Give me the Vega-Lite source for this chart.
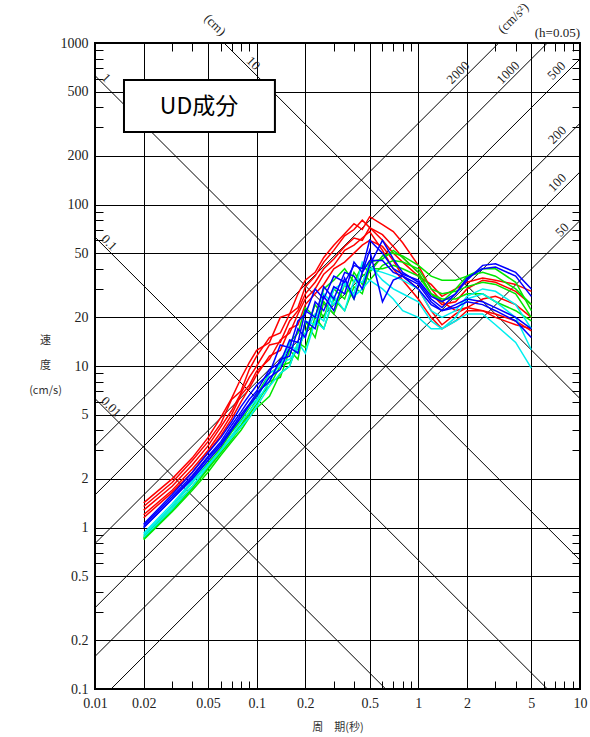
{
"$schema":"https://vega.github.io/schema/vega-lite/v6.json",
"width":485,"height":646,
"autosize":{"type":"none"},
"padding":{"left":95,"top":43,"right":10,"bottom":48},
"background":"white",
"config":{
 "view":{"stroke":"#000","strokeWidth":2},
 "axis":{"domain":false,"tickColor":"#000","tickWidth":1,"tickSize":-8,"gridColor":"#000","gridWidth":1,"labelFont":"Liberation Serif","labelFontSize":14,"labelColor":"#222","labelOverlap":false,"labelBound":false,"labelFlush":false,"titleFontWeight":"normal","titleColor":"#333","titleFont":"Noto Sans CJK JP","titleFontSize":11}
},
"resolve":{"axis":{"x":"independent","y":"independent"}},
"datasets":{
 "diag":[
  {"name":"D0.01","T1":0.01,"V1":6.283,"T2":0.6283,"V2":0.1},
  {"name":"D0.1","T1":0.01,"V1":62.83,"T2":6.283,"V2":0.1},
  {"name":"D1","T1":0.01,"V1":628.3,"T2":10,"V2":0.6283},
  {"name":"D10","T1":0.06283,"V1":1000,"T2":10,"V2":6.283},
  {"name":"A2000","T1":0.01,"V1":3.183,"T2":3.1416,"V2":1000},
  {"name":"A1000","T1":0.01,"V1":1.5915,"T2":6.2832,"V2":1000},
  {"name":"A500","T1":0.01,"V1":0.7958,"T2":10,"V2":795.8},
  {"name":"A200","T1":0.01,"V1":0.3183,"T2":10,"V2":318.3},
  {"name":"A100","T1":0.01,"V1":0.15915,"T2":10,"V2":159.15},
  {"name":"A50","T1":0.012566,"V1":0.1,"T2":10,"V2":79.58}
 ],
 "labels":[
  {"kind":"d","text":"1","T":0.0117,"V":607},
  {"kind":"d","text":"10","T":0.0953,"V":748},
  {"kind":"d","text":"0.1","T":0.01221,"V":58.0},
  {"kind":"d","text":"0.01","T":0.01256,"V":5.57},
  {"kind":"d","text":"(cm)","T":0.0552,"V":1293},
  {"kind":"a","text":"2000","T":1.765,"V":655},
  {"kind":"a","text":"1000","T":3.597,"V":655},
  {"kind":"a","text":"500","T":7.166,"V":674},
  {"kind":"a","text":"200","T":7.234,"V":269},
  {"kind":"a","text":"100","T":7.234,"V":136.5},
  {"kind":"a","text":"50","T":7.76,"V":69.5},
  {"kind":"a","text":"(cm/s²)","T":3.864,"V":1422},
  {"kind":"h","text":"(h=0.05)","T":10,"V":1148}
 ],
 "box":[{"T1":0.01511,"V1":590,"T2":0.1297,"V2":281,"Tc":0.044,"Vc":401.6,"text":"UD成分"}],
 "spec":[
{"s":"R1","g":"red","T":0.02,"Sv":1.42},{"s":"R1","g":"red","T":0.03,"Sv":2.0},{"s":"R1","g":"red","T":0.04,"Sv":2.7},{"s":"R1","g":"red","T":0.05,"Sv":3.6},{"s":"R1","g":"red","T":0.06,"Sv":4.8},{"s":"R1","g":"red","T":0.07,"Sv":6.3},{"s":"R1","g":"red","T":0.08,"Sv":8.4},{"s":"R1","g":"red","T":0.09,"Sv":10.5},{"s":"R1","g":"red","T":0.1,"Sv":12.5},{"s":"R1","g":"red","T":0.12,"Sv":14},{"s":"R1","g":"red","T":0.14,"Sv":20},{"s":"R1","g":"red","T":0.16,"Sv":21},{"s":"R1","g":"red","T":0.18,"Sv":28},{"s":"R1","g":"red","T":0.2,"Sv":34},{"s":"R1","g":"red","T":0.23,"Sv":38},{"s":"R1","g":"red","T":0.26,"Sv":47},{"s":"R1","g":"red","T":0.3,"Sv":56},{"s":"R1","g":"red","T":0.35,"Sv":66},{"s":"R1","g":"red","T":0.4,"Sv":76},{"s":"R1","g":"red","T":0.45,"Sv":70},{"s":"R1","g":"red","T":0.5,"Sv":84},{"s":"R1","g":"red","T":0.6,"Sv":75},{"s":"R1","g":"red","T":0.7,"Sv":68},{"s":"R1","g":"red","T":0.8,"Sv":58},{"s":"R1","g":"red","T":1.0,"Sv":42},{"s":"R1","g":"red","T":1.2,"Sv":30},{"s":"R1","g":"red","T":1.4,"Sv":25},{"s":"R1","g":"red","T":1.7,"Sv":22},{"s":"R1","g":"red","T":2.0,"Sv":23},{"s":"R1","g":"red","T":2.5,"Sv":26},{"s":"R1","g":"red","T":3.0,"Sv":27},{"s":"R1","g":"red","T":4.0,"Sv":24},{"s":"R1","g":"red","T":5.0,"Sv":20},
{"s":"R2","g":"red","T":0.02,"Sv":1.35},{"s":"R2","g":"red","T":0.03,"Sv":1.9},{"s":"R2","g":"red","T":0.04,"Sv":2.6},{"s":"R2","g":"red","T":0.05,"Sv":3.4},{"s":"R2","g":"red","T":0.06,"Sv":4.4},{"s":"R2","g":"red","T":0.07,"Sv":6.2},{"s":"R2","g":"red","T":0.08,"Sv":7.0},{"s":"R2","g":"red","T":0.09,"Sv":9.5},{"s":"R2","g":"red","T":0.1,"Sv":11.5},{"s":"R2","g":"red","T":0.12,"Sv":15},{"s":"R2","g":"red","T":0.14,"Sv":16},{"s":"R2","g":"red","T":0.16,"Sv":21},{"s":"R2","g":"red","T":0.18,"Sv":23},{"s":"R2","g":"red","T":0.2,"Sv":31},{"s":"R2","g":"red","T":0.23,"Sv":36},{"s":"R2","g":"red","T":0.26,"Sv":44},{"s":"R2","g":"red","T":0.3,"Sv":52},{"s":"R2","g":"red","T":0.35,"Sv":64},{"s":"R2","g":"red","T":0.4,"Sv":70},{"s":"R2","g":"red","T":0.45,"Sv":80},{"s":"R2","g":"red","T":0.5,"Sv":72},{"s":"R2","g":"red","T":0.6,"Sv":65},{"s":"R2","g":"red","T":0.7,"Sv":55},{"s":"R2","g":"red","T":0.8,"Sv":47},{"s":"R2","g":"red","T":1.0,"Sv":38},{"s":"R2","g":"red","T":1.2,"Sv":28},{"s":"R2","g":"red","T":1.4,"Sv":24},{"s":"R2","g":"red","T":1.7,"Sv":25},{"s":"R2","g":"red","T":2.0,"Sv":30},{"s":"R2","g":"red","T":2.5,"Sv":34},{"s":"R2","g":"red","T":3.0,"Sv":33},{"s":"R2","g":"red","T":4.0,"Sv":29},{"s":"R2","g":"red","T":5.0,"Sv":24},
{"s":"R3","g":"red","T":0.02,"Sv":1.28},{"s":"R3","g":"red","T":0.03,"Sv":1.8},{"s":"R3","g":"red","T":0.04,"Sv":2.45},{"s":"R3","g":"red","T":0.05,"Sv":3.2},{"s":"R3","g":"red","T":0.06,"Sv":4.2},{"s":"R3","g":"red","T":0.07,"Sv":5.3},{"s":"R3","g":"red","T":0.08,"Sv":6.8},{"s":"R3","g":"red","T":0.09,"Sv":8.5},{"s":"R3","g":"red","T":0.1,"Sv":10},{"s":"R3","g":"red","T":0.12,"Sv":13.5},{"s":"R3","g":"red","T":0.14,"Sv":14},{"s":"R3","g":"red","T":0.16,"Sv":19},{"s":"R3","g":"red","T":0.18,"Sv":22},{"s":"R3","g":"red","T":0.2,"Sv":28},{"s":"R3","g":"red","T":0.23,"Sv":33},{"s":"R3","g":"red","T":0.26,"Sv":40},{"s":"R3","g":"red","T":0.3,"Sv":46},{"s":"R3","g":"red","T":0.35,"Sv":55},{"s":"R3","g":"red","T":0.4,"Sv":62},{"s":"R3","g":"red","T":0.45,"Sv":60},{"s":"R3","g":"red","T":0.5,"Sv":72},{"s":"R3","g":"red","T":0.6,"Sv":60},{"s":"R3","g":"red","T":0.7,"Sv":50},{"s":"R3","g":"red","T":0.8,"Sv":44},{"s":"R3","g":"red","T":1.0,"Sv":36},{"s":"R3","g":"red","T":1.2,"Sv":32},{"s":"R3","g":"red","T":1.4,"Sv":27},{"s":"R3","g":"red","T":1.7,"Sv":30},{"s":"R3","g":"red","T":2.0,"Sv":33},{"s":"R3","g":"red","T":2.5,"Sv":35},{"s":"R3","g":"red","T":3.0,"Sv":34},{"s":"R3","g":"red","T":4.0,"Sv":32},{"s":"R3","g":"red","T":5.0,"Sv":29},
{"s":"R4","g":"red","T":0.02,"Sv":1.2},{"s":"R4","g":"red","T":0.03,"Sv":1.7},{"s":"R4","g":"red","T":0.04,"Sv":2.3},{"s":"R4","g":"red","T":0.05,"Sv":3.0},{"s":"R4","g":"red","T":0.06,"Sv":3.9},{"s":"R4","g":"red","T":0.07,"Sv":5.0},{"s":"R4","g":"red","T":0.08,"Sv":6.6},{"s":"R4","g":"red","T":0.09,"Sv":7.6},{"s":"R4","g":"red","T":0.1,"Sv":9.3},{"s":"R4","g":"red","T":0.12,"Sv":11},{"s":"R4","g":"red","T":0.14,"Sv":14.5},{"s":"R4","g":"red","T":0.16,"Sv":16},{"s":"R4","g":"red","T":0.18,"Sv":21},{"s":"R4","g":"red","T":0.2,"Sv":26},{"s":"R4","g":"red","T":0.23,"Sv":30},{"s":"R4","g":"red","T":0.26,"Sv":37},{"s":"R4","g":"red","T":0.3,"Sv":42},{"s":"R4","g":"red","T":0.35,"Sv":52},{"s":"R4","g":"red","T":0.4,"Sv":56},{"s":"R4","g":"red","T":0.45,"Sv":62},{"s":"R4","g":"red","T":0.5,"Sv":68},{"s":"R4","g":"red","T":0.6,"Sv":52},{"s":"R4","g":"red","T":0.7,"Sv":40},{"s":"R4","g":"red","T":0.8,"Sv":34},{"s":"R4","g":"red","T":1.0,"Sv":26},{"s":"R4","g":"red","T":1.2,"Sv":20},{"s":"R4","g":"red","T":1.4,"Sv":17},{"s":"R4","g":"red","T":1.7,"Sv":19},{"s":"R4","g":"red","T":2.0,"Sv":22},{"s":"R4","g":"red","T":2.5,"Sv":22},{"s":"R4","g":"red","T":3.0,"Sv":21},{"s":"R4","g":"red","T":4.0,"Sv":19},{"s":"R4","g":"red","T":5.0,"Sv":16.5},
{"s":"R5","g":"red","T":0.02,"Sv":1.15},{"s":"R5","g":"red","T":0.03,"Sv":1.65},{"s":"R5","g":"red","T":0.04,"Sv":2.2},{"s":"R5","g":"red","T":0.05,"Sv":2.9},{"s":"R5","g":"red","T":0.06,"Sv":3.7},{"s":"R5","g":"red","T":0.07,"Sv":4.7},{"s":"R5","g":"red","T":0.08,"Sv":6.0},{"s":"R5","g":"red","T":0.09,"Sv":7.3},{"s":"R5","g":"red","T":0.1,"Sv":8.8},{"s":"R5","g":"red","T":0.12,"Sv":11.5},{"s":"R5","g":"red","T":0.14,"Sv":12.5},{"s":"R5","g":"red","T":0.16,"Sv":17},{"s":"R5","g":"red","T":0.18,"Sv":18},{"s":"R5","g":"red","T":0.2,"Sv":24},{"s":"R5","g":"red","T":0.23,"Sv":28},{"s":"R5","g":"red","T":0.26,"Sv":32},{"s":"R5","g":"red","T":0.3,"Sv":40},{"s":"R5","g":"red","T":0.35,"Sv":44},{"s":"R5","g":"red","T":0.4,"Sv":50},{"s":"R5","g":"red","T":0.45,"Sv":56},{"s":"R5","g":"red","T":0.5,"Sv":60},{"s":"R5","g":"red","T":0.6,"Sv":55},{"s":"R5","g":"red","T":0.7,"Sv":45},{"s":"R5","g":"red","T":0.8,"Sv":36},{"s":"R5","g":"red","T":1.0,"Sv":30},{"s":"R5","g":"red","T":1.2,"Sv":22},{"s":"R5","g":"red","T":1.4,"Sv":18},{"s":"R5","g":"red","T":1.7,"Sv":21},{"s":"R5","g":"red","T":2.0,"Sv":23},{"s":"R5","g":"red","T":2.5,"Sv":22},{"s":"R5","g":"red","T":3.0,"Sv":20},{"s":"R5","g":"red","T":4.0,"Sv":18},{"s":"R5","g":"red","T":5.0,"Sv":17},
{"s":"G1","g":"green","T":0.02,"Sv":0.88},{"s":"G1","g":"green","T":0.03,"Sv":1.35},{"s":"G1","g":"green","T":0.04,"Sv":1.9},{"s":"G1","g":"green","T":0.05,"Sv":2.5},{"s":"G1","g":"green","T":0.06,"Sv":3.1},{"s":"G1","g":"green","T":0.07,"Sv":3.9},{"s":"G1","g":"green","T":0.08,"Sv":4.6},{"s":"G1","g":"green","T":0.09,"Sv":5.5},{"s":"G1","g":"green","T":0.1,"Sv":6.6},{"s":"G1","g":"green","T":0.12,"Sv":9},{"s":"G1","g":"green","T":0.14,"Sv":10},{"s":"G1","g":"green","T":0.16,"Sv":14},{"s":"G1","g":"green","T":0.18,"Sv":16},{"s":"G1","g":"green","T":0.2,"Sv":23},{"s":"G1","g":"green","T":0.23,"Sv":20},{"s":"G1","g":"green","T":0.26,"Sv":30},{"s":"G1","g":"green","T":0.3,"Sv":34},{"s":"G1","g":"green","T":0.35,"Sv":40},{"s":"G1","g":"green","T":0.4,"Sv":33},{"s":"G1","g":"green","T":0.45,"Sv":42},{"s":"G1","g":"green","T":0.5,"Sv":38},{"s":"G1","g":"green","T":0.6,"Sv":48},{"s":"G1","g":"green","T":0.7,"Sv":50},{"s":"G1","g":"green","T":0.8,"Sv":48},{"s":"G1","g":"green","T":1.0,"Sv":42},{"s":"G1","g":"green","T":1.2,"Sv":36},{"s":"G1","g":"green","T":1.4,"Sv":34},{"s":"G1","g":"green","T":1.7,"Sv":34},{"s":"G1","g":"green","T":2.0,"Sv":36},{"s":"G1","g":"green","T":2.5,"Sv":38},{"s":"G1","g":"green","T":3.0,"Sv":36},{"s":"G1","g":"green","T":4.0,"Sv":30},{"s":"G1","g":"green","T":5.0,"Sv":24},
{"s":"G2","g":"green","T":0.02,"Sv":0.86},{"s":"G2","g":"green","T":0.03,"Sv":1.3},{"s":"G2","g":"green","T":0.04,"Sv":1.8},{"s":"G2","g":"green","T":0.05,"Sv":2.35},{"s":"G2","g":"green","T":0.06,"Sv":3.0},{"s":"G2","g":"green","T":0.07,"Sv":3.7},{"s":"G2","g":"green","T":0.08,"Sv":4.3},{"s":"G2","g":"green","T":0.09,"Sv":5.2},{"s":"G2","g":"green","T":0.1,"Sv":6.2},{"s":"G2","g":"green","T":0.12,"Sv":7.5},{"s":"G2","g":"green","T":0.14,"Sv":10},{"s":"G2","g":"green","T":0.16,"Sv":10.5},{"s":"G2","g":"green","T":0.18,"Sv":13},{"s":"G2","g":"green","T":0.2,"Sv":16},{"s":"G2","g":"green","T":0.23,"Sv":24},{"s":"G2","g":"green","T":0.26,"Sv":20},{"s":"G2","g":"green","T":0.3,"Sv":30},{"s":"G2","g":"green","T":0.35,"Sv":26},{"s":"G2","g":"green","T":0.4,"Sv":38},{"s":"G2","g":"green","T":0.45,"Sv":32},{"s":"G2","g":"green","T":0.5,"Sv":44},{"s":"G2","g":"green","T":0.6,"Sv":46},{"s":"G2","g":"green","T":0.7,"Sv":52},{"s":"G2","g":"green","T":0.8,"Sv":47},{"s":"G2","g":"green","T":1.0,"Sv":38},{"s":"G2","g":"green","T":1.2,"Sv":28},{"s":"G2","g":"green","T":1.4,"Sv":25},{"s":"G2","g":"green","T":1.7,"Sv":30},{"s":"G2","g":"green","T":2.0,"Sv":36},{"s":"G2","g":"green","T":2.5,"Sv":40},{"s":"G2","g":"green","T":3.0,"Sv":40},{"s":"G2","g":"green","T":4.0,"Sv":33},{"s":"G2","g":"green","T":5.0,"Sv":22},
{"s":"G3","g":"green","T":0.02,"Sv":0.85},{"s":"G3","g":"green","T":0.03,"Sv":1.28},{"s":"G3","g":"green","T":0.04,"Sv":1.75},{"s":"G3","g":"green","T":0.05,"Sv":2.3},{"s":"G3","g":"green","T":0.06,"Sv":2.9},{"s":"G3","g":"green","T":0.07,"Sv":3.5},{"s":"G3","g":"green","T":0.08,"Sv":4.2},{"s":"G3","g":"green","T":0.09,"Sv":5.0},{"s":"G3","g":"green","T":0.1,"Sv":5.8},{"s":"G3","g":"green","T":0.12,"Sv":8},{"s":"G3","g":"green","T":0.14,"Sv":8.5},{"s":"G3","g":"green","T":0.16,"Sv":12.5},{"s":"G3","g":"green","T":0.18,"Sv":11},{"s":"G3","g":"green","T":0.2,"Sv":19},{"s":"G3","g":"green","T":0.23,"Sv":15},{"s":"G3","g":"green","T":0.26,"Sv":25},{"s":"G3","g":"green","T":0.3,"Sv":21},{"s":"G3","g":"green","T":0.35,"Sv":32},{"s":"G3","g":"green","T":0.4,"Sv":26},{"s":"G3","g":"green","T":0.45,"Sv":37},{"s":"G3","g":"green","T":0.5,"Sv":34},{"s":"G3","g":"green","T":0.6,"Sv":42},{"s":"G3","g":"green","T":0.7,"Sv":45},{"s":"G3","g":"green","T":0.8,"Sv":44},{"s":"G3","g":"green","T":1.0,"Sv":40},{"s":"G3","g":"green","T":1.2,"Sv":30},{"s":"G3","g":"green","T":1.4,"Sv":28},{"s":"G3","g":"green","T":1.7,"Sv":29},{"s":"G3","g":"green","T":2.0,"Sv":31},{"s":"G3","g":"green","T":2.5,"Sv":33},{"s":"G3","g":"green","T":3.0,"Sv":32},{"s":"G3","g":"green","T":4.0,"Sv":28},{"s":"G3","g":"green","T":5.0,"Sv":20},
{"s":"G4","g":"green","T":0.02,"Sv":0.84},{"s":"G4","g":"green","T":0.03,"Sv":1.25},{"s":"G4","g":"green","T":0.04,"Sv":1.7},{"s":"G4","g":"green","T":0.05,"Sv":2.2},{"s":"G4","g":"green","T":0.06,"Sv":2.8},{"s":"G4","g":"green","T":0.07,"Sv":3.4},{"s":"G4","g":"green","T":0.08,"Sv":4.0},{"s":"G4","g":"green","T":0.09,"Sv":4.8},{"s":"G4","g":"green","T":0.1,"Sv":5.5},{"s":"G4","g":"green","T":0.12,"Sv":6.5},{"s":"G4","g":"green","T":0.14,"Sv":9},{"s":"G4","g":"green","T":0.16,"Sv":10},{"s":"G4","g":"green","T":0.18,"Sv":14},{"s":"G4","g":"green","T":0.2,"Sv":13},{"s":"G4","g":"green","T":0.23,"Sv":20},{"s":"G4","g":"green","T":0.26,"Sv":17},{"s":"G4","g":"green","T":0.3,"Sv":26},{"s":"G4","g":"green","T":0.35,"Sv":22},{"s":"G4","g":"green","T":0.4,"Sv":31},{"s":"G4","g":"green","T":0.45,"Sv":28},{"s":"G4","g":"green","T":0.5,"Sv":40},{"s":"G4","g":"green","T":0.6,"Sv":40},{"s":"G4","g":"green","T":0.7,"Sv":42},{"s":"G4","g":"green","T":0.8,"Sv":40},{"s":"G4","g":"green","T":1.0,"Sv":36},{"s":"G4","g":"green","T":1.2,"Sv":28},{"s":"G4","g":"green","T":1.4,"Sv":26},{"s":"G4","g":"green","T":1.7,"Sv":26},{"s":"G4","g":"green","T":2.0,"Sv":28},{"s":"G4","g":"green","T":2.5,"Sv":28},{"s":"G4","g":"green","T":3.0,"Sv":25},{"s":"G4","g":"green","T":4.0,"Sv":22},{"s":"G4","g":"green","T":5.0,"Sv":19},
{"s":"C1","g":"cyan","T":0.02,"Sv":0.92},{"s":"C1","g":"cyan","T":0.03,"Sv":1.4},{"s":"C1","g":"cyan","T":0.04,"Sv":1.95},{"s":"C1","g":"cyan","T":0.05,"Sv":2.6},{"s":"C1","g":"cyan","T":0.06,"Sv":3.3},{"s":"C1","g":"cyan","T":0.07,"Sv":4.1},{"s":"C1","g":"cyan","T":0.08,"Sv":4.8},{"s":"C1","g":"cyan","T":0.09,"Sv":5.6},{"s":"C1","g":"cyan","T":0.1,"Sv":6.2},{"s":"C1","g":"cyan","T":0.12,"Sv":9},{"s":"C1","g":"cyan","T":0.14,"Sv":10},{"s":"C1","g":"cyan","T":0.16,"Sv":14},{"s":"C1","g":"cyan","T":0.18,"Sv":12},{"s":"C1","g":"cyan","T":0.2,"Sv":19},{"s":"C1","g":"cyan","T":0.23,"Sv":18},{"s":"C1","g":"cyan","T":0.26,"Sv":28},{"s":"C1","g":"cyan","T":0.3,"Sv":24},{"s":"C1","g":"cyan","T":0.35,"Sv":32},{"s":"C1","g":"cyan","T":0.4,"Sv":28},{"s":"C1","g":"cyan","T":0.45,"Sv":44},{"s":"C1","g":"cyan","T":0.5,"Sv":40},{"s":"C1","g":"cyan","T":0.6,"Sv":38},{"s":"C1","g":"cyan","T":0.7,"Sv":36},{"s":"C1","g":"cyan","T":0.8,"Sv":34},{"s":"C1","g":"cyan","T":1.0,"Sv":30},{"s":"C1","g":"cyan","T":1.2,"Sv":22},{"s":"C1","g":"cyan","T":1.4,"Sv":20},{"s":"C1","g":"cyan","T":1.7,"Sv":22},{"s":"C1","g":"cyan","T":2.0,"Sv":27},{"s":"C1","g":"cyan","T":2.5,"Sv":30},{"s":"C1","g":"cyan","T":3.0,"Sv":29},{"s":"C1","g":"cyan","T":4.0,"Sv":24},{"s":"C1","g":"cyan","T":5.0,"Sv":17},
{"s":"C2","g":"cyan","T":0.02,"Sv":0.9},{"s":"C2","g":"cyan","T":0.03,"Sv":1.35},{"s":"C2","g":"cyan","T":0.04,"Sv":1.9},{"s":"C2","g":"cyan","T":0.05,"Sv":2.45},{"s":"C2","g":"cyan","T":0.06,"Sv":3.0},{"s":"C2","g":"cyan","T":0.07,"Sv":3.6},{"s":"C2","g":"cyan","T":0.08,"Sv":4.2},{"s":"C2","g":"cyan","T":0.09,"Sv":4.8},{"s":"C2","g":"cyan","T":0.1,"Sv":5.6},{"s":"C2","g":"cyan","T":0.12,"Sv":7.5},{"s":"C2","g":"cyan","T":0.14,"Sv":9},{"s":"C2","g":"cyan","T":0.16,"Sv":10},{"s":"C2","g":"cyan","T":0.18,"Sv":14},{"s":"C2","g":"cyan","T":0.2,"Sv":12},{"s":"C2","g":"cyan","T":0.23,"Sv":19},{"s":"C2","g":"cyan","T":0.26,"Sv":17},{"s":"C2","g":"cyan","T":0.3,"Sv":27},{"s":"C2","g":"cyan","T":0.35,"Sv":22},{"s":"C2","g":"cyan","T":0.4,"Sv":34},{"s":"C2","g":"cyan","T":0.45,"Sv":33},{"s":"C2","g":"cyan","T":0.5,"Sv":42},{"s":"C2","g":"cyan","T":0.6,"Sv":34},{"s":"C2","g":"cyan","T":0.7,"Sv":30},{"s":"C2","g":"cyan","T":0.8,"Sv":28},{"s":"C2","g":"cyan","T":1.0,"Sv":25},{"s":"C2","g":"cyan","T":1.2,"Sv":19},{"s":"C2","g":"cyan","T":1.4,"Sv":17},{"s":"C2","g":"cyan","T":1.7,"Sv":20},{"s":"C2","g":"cyan","T":2.0,"Sv":26},{"s":"C2","g":"cyan","T":2.5,"Sv":28},{"s":"C2","g":"cyan","T":3.0,"Sv":25},{"s":"C2","g":"cyan","T":4.0,"Sv":20},{"s":"C2","g":"cyan","T":5.0,"Sv":12.6},
{"s":"C3","g":"cyan","T":0.02,"Sv":0.87},{"s":"C3","g":"cyan","T":0.03,"Sv":1.3},{"s":"C3","g":"cyan","T":0.04,"Sv":1.8},{"s":"C3","g":"cyan","T":0.05,"Sv":2.4},{"s":"C3","g":"cyan","T":0.06,"Sv":3.0},{"s":"C3","g":"cyan","T":0.07,"Sv":3.7},{"s":"C3","g":"cyan","T":0.08,"Sv":4.5},{"s":"C3","g":"cyan","T":0.09,"Sv":5.2},{"s":"C3","g":"cyan","T":0.1,"Sv":6.0},{"s":"C3","g":"cyan","T":0.12,"Sv":8},{"s":"C3","g":"cyan","T":0.14,"Sv":10.5},{"s":"C3","g":"cyan","T":0.16,"Sv":11},{"s":"C3","g":"cyan","T":0.18,"Sv":13},{"s":"C3","g":"cyan","T":0.2,"Sv":16},{"s":"C3","g":"cyan","T":0.23,"Sv":21},{"s":"C3","g":"cyan","T":0.26,"Sv":19},{"s":"C3","g":"cyan","T":0.3,"Sv":30},{"s":"C3","g":"cyan","T":0.35,"Sv":33},{"s":"C3","g":"cyan","T":0.4,"Sv":27},{"s":"C3","g":"cyan","T":0.45,"Sv":30},{"s":"C3","g":"cyan","T":0.5,"Sv":34},{"s":"C3","g":"cyan","T":0.6,"Sv":30},{"s":"C3","g":"cyan","T":0.7,"Sv":26},{"s":"C3","g":"cyan","T":0.8,"Sv":22},{"s":"C3","g":"cyan","T":1.0,"Sv":20},{"s":"C3","g":"cyan","T":1.2,"Sv":17},{"s":"C3","g":"cyan","T":1.4,"Sv":17},{"s":"C3","g":"cyan","T":1.7,"Sv":19},{"s":"C3","g":"cyan","T":2.0,"Sv":21},{"s":"C3","g":"cyan","T":2.5,"Sv":21},{"s":"C3","g":"cyan","T":3.0,"Sv":18},{"s":"C3","g":"cyan","T":4.0,"Sv":14},{"s":"C3","g":"cyan","T":5.0,"Sv":9.7},
{"s":"B1","g":"blue","T":0.02,"Sv":1.05},{"s":"B1","g":"blue","T":0.03,"Sv":1.6},{"s":"B1","g":"blue","T":0.04,"Sv":2.2},{"s":"B1","g":"blue","T":0.05,"Sv":2.9},{"s":"B1","g":"blue","T":0.06,"Sv":3.6},{"s":"B1","g":"blue","T":0.07,"Sv":4.5},{"s":"B1","g":"blue","T":0.08,"Sv":5.6},{"s":"B1","g":"blue","T":0.09,"Sv":6.6},{"s":"B1","g":"blue","T":0.1,"Sv":7.6},{"s":"B1","g":"blue","T":0.12,"Sv":9},{"s":"B1","g":"blue","T":0.14,"Sv":13.5},{"s":"B1","g":"blue","T":0.16,"Sv":13},{"s":"B1","g":"blue","T":0.18,"Sv":19},{"s":"B1","g":"blue","T":0.2,"Sv":21},{"s":"B1","g":"blue","T":0.23,"Sv":30},{"s":"B1","g":"blue","T":0.26,"Sv":26},{"s":"B1","g":"blue","T":0.3,"Sv":36},{"s":"B1","g":"blue","T":0.35,"Sv":33},{"s":"B1","g":"blue","T":0.4,"Sv":42},{"s":"B1","g":"blue","T":0.45,"Sv":40},{"s":"B1","g":"blue","T":0.5,"Sv":60},{"s":"B1","g":"blue","T":0.6,"Sv":50},{"s":"B1","g":"blue","T":0.7,"Sv":40},{"s":"B1","g":"blue","T":0.8,"Sv":37},{"s":"B1","g":"blue","T":1.0,"Sv":34},{"s":"B1","g":"blue","T":1.2,"Sv":27},{"s":"B1","g":"blue","T":1.4,"Sv":25},{"s":"B1","g":"blue","T":1.7,"Sv":28},{"s":"B1","g":"blue","T":2.0,"Sv":34},{"s":"B1","g":"blue","T":2.5,"Sv":42},{"s":"B1","g":"blue","T":3.0,"Sv":43},{"s":"B1","g":"blue","T":4.0,"Sv":38},{"s":"B1","g":"blue","T":5.0,"Sv":30},
{"s":"B2","g":"blue","T":0.02,"Sv":1.03},{"s":"B2","g":"blue","T":0.03,"Sv":1.55},{"s":"B2","g":"blue","T":0.04,"Sv":2.1},{"s":"B2","g":"blue","T":0.05,"Sv":2.75},{"s":"B2","g":"blue","T":0.06,"Sv":3.4},{"s":"B2","g":"blue","T":0.07,"Sv":4.3},{"s":"B2","g":"blue","T":0.08,"Sv":5.2},{"s":"B2","g":"blue","T":0.09,"Sv":6.2},{"s":"B2","g":"blue","T":0.1,"Sv":7.0},{"s":"B2","g":"blue","T":0.12,"Sv":9.5},{"s":"B2","g":"blue","T":0.14,"Sv":10.5},{"s":"B2","g":"blue","T":0.16,"Sv":14.5},{"s":"B2","g":"blue","T":0.18,"Sv":14},{"s":"B2","g":"blue","T":0.2,"Sv":22},{"s":"B2","g":"blue","T":0.23,"Sv":20},{"s":"B2","g":"blue","T":0.26,"Sv":31},{"s":"B2","g":"blue","T":0.3,"Sv":26},{"s":"B2","g":"blue","T":0.35,"Sv":38},{"s":"B2","g":"blue","T":0.4,"Sv":36},{"s":"B2","g":"blue","T":0.45,"Sv":30},{"s":"B2","g":"blue","T":0.5,"Sv":42},{"s":"B2","g":"blue","T":0.6,"Sv":60},{"s":"B2","g":"blue","T":0.7,"Sv":46},{"s":"B2","g":"blue","T":0.8,"Sv":38},{"s":"B2","g":"blue","T":1.0,"Sv":33},{"s":"B2","g":"blue","T":1.2,"Sv":26},{"s":"B2","g":"blue","T":1.4,"Sv":23},{"s":"B2","g":"blue","T":1.7,"Sv":28},{"s":"B2","g":"blue","T":2.0,"Sv":35},{"s":"B2","g":"blue","T":2.5,"Sv":40},{"s":"B2","g":"blue","T":3.0,"Sv":41},{"s":"B2","g":"blue","T":4.0,"Sv":36},{"s":"B2","g":"blue","T":5.0,"Sv":27},
{"s":"B3","g":"blue","T":0.02,"Sv":1.0},{"s":"B3","g":"blue","T":0.03,"Sv":1.5},{"s":"B3","g":"blue","T":0.04,"Sv":2.05},{"s":"B3","g":"blue","T":0.05,"Sv":2.7},{"s":"B3","g":"blue","T":0.06,"Sv":3.3},{"s":"B3","g":"blue","T":0.07,"Sv":4.1},{"s":"B3","g":"blue","T":0.08,"Sv":5.0},{"s":"B3","g":"blue","T":0.09,"Sv":5.8},{"s":"B3","g":"blue","T":0.1,"Sv":6.8},{"s":"B3","g":"blue","T":0.12,"Sv":8},{"s":"B3","g":"blue","T":0.14,"Sv":11},{"s":"B3","g":"blue","T":0.16,"Sv":11.5},{"s":"B3","g":"blue","T":0.18,"Sv":17},{"s":"B3","g":"blue","T":0.2,"Sv":15},{"s":"B3","g":"blue","T":0.23,"Sv":25},{"s":"B3","g":"blue","T":0.26,"Sv":22},{"s":"B3","g":"blue","T":0.3,"Sv":31},{"s":"B3","g":"blue","T":0.35,"Sv":28},{"s":"B3","g":"blue","T":0.4,"Sv":44},{"s":"B3","g":"blue","T":0.45,"Sv":38},{"s":"B3","g":"blue","T":0.5,"Sv":52},{"s":"B3","g":"blue","T":0.6,"Sv":25},{"s":"B3","g":"blue","T":0.7,"Sv":34},{"s":"B3","g":"blue","T":0.8,"Sv":36},{"s":"B3","g":"blue","T":1.0,"Sv":32},{"s":"B3","g":"blue","T":1.2,"Sv":25},{"s":"B3","g":"blue","T":1.4,"Sv":22},{"s":"B3","g":"blue","T":1.7,"Sv":23},{"s":"B3","g":"blue","T":2.0,"Sv":25},{"s":"B3","g":"blue","T":2.5,"Sv":24},{"s":"B3","g":"blue","T":3.0,"Sv":22},{"s":"B3","g":"blue","T":4.0,"Sv":19},{"s":"B3","g":"blue","T":5.0,"Sv":15},
{"s":"B4","g":"blue","T":0.02,"Sv":1.0},{"s":"B4","g":"blue","T":0.03,"Sv":1.5},{"s":"B4","g":"blue","T":0.04,"Sv":2.0},{"s":"B4","g":"blue","T":0.05,"Sv":2.6},{"s":"B4","g":"blue","T":0.06,"Sv":3.2},{"s":"B4","g":"blue","T":0.07,"Sv":4.0},{"s":"B4","g":"blue","T":0.08,"Sv":4.8},{"s":"B4","g":"blue","T":0.09,"Sv":5.7},{"s":"B4","g":"blue","T":0.1,"Sv":6.5},{"s":"B4","g":"blue","T":0.12,"Sv":8.5},{"s":"B4","g":"blue","T":0.14,"Sv":9.5},{"s":"B4","g":"blue","T":0.16,"Sv":13},{"s":"B4","g":"blue","T":0.18,"Sv":12},{"s":"B4","g":"blue","T":0.2,"Sv":19},{"s":"B4","g":"blue","T":0.23,"Sv":17},{"s":"B4","g":"blue","T":0.26,"Sv":27},{"s":"B4","g":"blue","T":0.3,"Sv":22},{"s":"B4","g":"blue","T":0.35,"Sv":35},{"s":"B4","g":"blue","T":0.4,"Sv":26},{"s":"B4","g":"blue","T":0.45,"Sv":38},{"s":"B4","g":"blue","T":0.5,"Sv":45},{"s":"B4","g":"blue","T":0.6,"Sv":45},{"s":"B4","g":"blue","T":0.7,"Sv":38},{"s":"B4","g":"blue","T":0.8,"Sv":36},{"s":"B4","g":"blue","T":1.0,"Sv":30},{"s":"B4","g":"blue","T":1.2,"Sv":24},{"s":"B4","g":"blue","T":1.4,"Sv":22},{"s":"B4","g":"blue","T":1.7,"Sv":24},{"s":"B4","g":"blue","T":2.0,"Sv":26},{"s":"B4","g":"blue","T":2.5,"Sv":25},{"s":"B4","g":"blue","T":3.0,"Sv":23},{"s":"B4","g":"blue","T":4.0,"Sv":20},{"s":"B4","g":"blue","T":5.0,"Sv":17}
 ]
},
"layer":[
 {"data":{"name":"diag"},
  "mark":{"type":"rule","color":"#000","strokeWidth":1},
  "encoding":{
   "x":{"field":"T1","type":"quantitative","scale":{"type":"log","domain":[0.01,10],"nice":false},
    "axis":{"orient":"bottom","title":"周　期(秒)","titleY":38,"titleBaseline":"middle",
     "values":[0.01,0.02,0.03,0.04,0.05,0.06,0.07,0.08,0.09,0.1,0.2,0.3,0.4,0.5,0.6,0.7,0.8,0.9,1,2,3,4,5,6,7,8,9,10],
     "labelExpr":"indexof([0.01,0.02,0.05,0.1,0.2,0.5,1,2,5,10], datum.value) >= 0 ? '' + datum.value : ''",
     "grid":true,"gridOpacity":{"condition":{"test":"indexof([0.01,0.02,0.05,0.1,0.2,0.5,1,2,5,10], datum.value) >= 0","value":1},"value":0},
     "labelPadding":15}},
   "y":{"field":"V1","type":"quantitative","scale":{"type":"log","domain":[0.1,1000],"nice":false},
    "axis":{"orient":"left","title":["速","度","(cm/s)"],"titleAngle":0,"titleX":-50,"titleY":297,"titleAlign":"center","titleBaseline":"middle","titleLineHeight":25,
     "values":[0.1,0.2,0.3,0.4,0.5,0.6,0.7,0.8,0.9,1,2,3,4,5,6,7,8,9,10,20,30,40,50,60,70,80,90,100,200,300,400,500,600,700,800,900,1000],
     "labelExpr":"indexof([0.1,0.2,0.5,1,2,5,10,20,50,100,200,500,1000], datum.value) >= 0 ? '' + datum.value : ''",
     "grid":true,"gridOpacity":{"condition":{"test":"indexof([0.1,0.2,0.5,1,2,5,10,20,50,100,200,500,1000], datum.value) >= 0","value":1},"value":0},
     "labelPadding":15}},
   "x2":{"field":"T2"},"y2":{"field":"V2"}
  }},
 {"data":{"name":"spec"},
  "mark":{"type":"line","strokeWidth":1.5},
  "encoding":{
   "x":{"field":"T","type":"quantitative","scale":{"type":"log","domain":[0.01,10],"nice":false},
    "axis":{"orient":"top","title":null,"labels":false,"grid":false,
     "values":[0.01,0.02,0.03,0.04,0.05,0.06,0.07,0.08,0.09,0.1,0.2,0.3,0.4,0.5,0.6,0.7,0.8,0.9,1,2,3,4,5,6,7,8,9,10]}},
   "y":{"field":"Sv","type":"quantitative","scale":{"type":"log","domain":[0.1,1000],"nice":false},
    "axis":{"orient":"right","title":null,"labels":false,"grid":false,
     "values":[0.1,0.2,0.3,0.4,0.5,0.6,0.7,0.8,0.9,1,2,3,4,5,6,7,8,9,10,20,30,40,50,60,70,80,90,100,200,300,400,500,600,700,800,900,1000]}},
   "color":{"field":"g","type":"nominal","scale":{"domain":["red","green","cyan","blue"],"range":["#ff0000","#00e600","#00eeee","#0000ff"]},"legend":null},
   "detail":{"field":"s"},
   "order":{"field":"T","type":"quantitative"}
  }},
 {"data":{"name":"box"},
  "mark":{"type":"rect","fill":"white","stroke":"#000","strokeWidth":2},
  "encoding":{
   "x":{"field":"T1","type":"quantitative","axis":null},"x2":{"field":"T2"},
   "y":{"field":"V1","type":"quantitative","axis":null},"y2":{"field":"V2"}
  }},
 {"data":{"name":"box"},
  "mark":{"type":"text","font":"Noto Sans CJK JP","fontSize":23,"color":"#000","align":"center","baseline":"middle"},
  "encoding":{
   "x":{"field":"Tc","type":"quantitative","axis":null},
   "y":{"field":"Vc","type":"quantitative","axis":null},
   "text":{"field":"text"}
  }},
 {"data":{"name":"labels"},
  "transform":[{"filter":"datum.kind == 'd'"}],
  "mark":{"type":"text","font":"Liberation Serif","fontSize":13,"color":"#222","align":"center","baseline":"middle","angle":45},
  "encoding":{
   "x":{"field":"T","type":"quantitative","axis":null},
   "y":{"field":"V","type":"quantitative","axis":null},
   "text":{"field":"text"}
  }},
 {"data":{"name":"labels"},
  "transform":[{"filter":"datum.kind == 'a'"}],
  "mark":{"type":"text","font":"Liberation Serif","fontSize":13,"color":"#222","align":"center","baseline":"middle","angle":-45},
  "encoding":{
   "x":{"field":"T","type":"quantitative","axis":null},
   "y":{"field":"V","type":"quantitative","axis":null},
   "text":{"field":"text"}
  }},
 {"data":{"name":"labels"},
  "transform":[{"filter":"datum.kind == 'h'"}],
  "mark":{"type":"text","font":"Liberation Serif","fontSize":13,"color":"#222","align":"right","baseline":"middle"},
  "encoding":{
   "x":{"field":"T","type":"quantitative","axis":null},
   "y":{"field":"V","type":"quantitative","axis":null},
   "text":{"field":"text"}
  }}
]
}
